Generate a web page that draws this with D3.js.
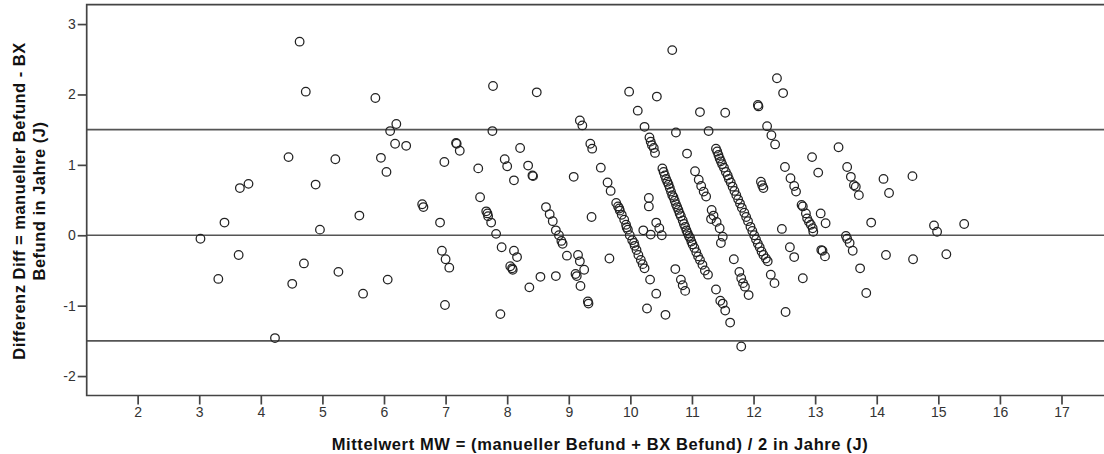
<!DOCTYPE html>
<html>
<head>
<meta charset="utf-8">
<script src="https://cdn.jsdelivr.net/npm/d3@7"></script>
<style>
  body { margin: 0; background: #fff; }
  svg { display: block; }
</style>
</head>
<body>
<script>
const width = 1104;
const height = 454;

// Mittelwert (x) and Differenz (y) for every case
const meanValues = [
  3.02, 3.31, 3.41, 3.64, 3.66, 3.80, 4.23, 4.45, 4.51, 4.63, 4.73, 4.70, 4.89, 4.96, 5.21, 5.26,
  5.60, 5.66, 5.86, 5.95, 6.04, 6.06, 6.10, 6.20, 6.18, 6.36, 6.62, 6.64, 6.91, 6.94, 7.00, 7.06,
  6.99, 6.98, 7.17, 7.18, 7.23,
  7.53, 7.56, 7.66, 7.68, 7.69, 7.74, 7.82, 7.77, 7.76, 7.91, 7.89, 7.96, 8.00, 8.11, 8.11, 8.16,
  8.05, 8.08, 8.09, 8.21, 8.34, 8.41, 8.42, 8.36, 8.48, 8.54, 8.79, 8.63, 8.69, 8.74, 8.79, 8.84,
  8.88, 8.90, 8.97, 9.08,
  9.11, 9.13, 9.15, 9.18, 9.25, 9.19, 9.31, 9.32, 9.18, 9.22, 9.35, 9.38, 9.37, 9.52, 9.63, 9.68, 9.66,
  9.77, 9.80, 9.82, 9.83, 9.86, 9.90, 9.93, 9.94, 9.96, 9.99, 10.03, 10.06, 10.07, 10.10, 10.13, 10.17,
  10.20, 10.23,
  9.98, 10.12, 10.23, 10.43, 10.74, 10.68,
  10.31, 10.33, 10.35, 10.38, 10.40, 10.30, 10.30, 10.21, 10.33, 10.42, 10.47, 10.51, 10.32, 10.42,
  10.27, 10.57,
  10.52, 10.54, 10.56, 10.58, 10.60, 10.62, 10.64, 10.66, 10.68, 10.70, 10.72, 10.74, 10.76, 10.78,
  10.80, 10.82, 10.85, 10.87, 10.89, 10.91, 10.93, 10.95, 10.97, 10.99, 11.01, 11.04, 11.07, 11.10,
  11.13, 11.17, 11.21, 11.26,
  10.92, 11.05, 11.11, 11.15, 11.19, 11.23, 11.32, 11.35, 11.31, 11.40, 11.45, 11.50, 11.47, 11.27,
  11.13, 11.54, 10.73, 10.82, 10.85, 10.89, 11.39, 11.46, 11.50, 11.54, 11.62, 11.68, 11.80,
  11.39, 11.41, 11.43, 11.45, 11.47, 11.49, 11.52, 11.55, 11.58, 11.60, 11.63, 11.66, 11.69, 11.72,
  11.75, 11.78, 11.81, 11.85, 11.88, 11.91, 11.95, 11.98, 12.01, 12.04, 12.07, 12.10, 12.13, 12.16,
  12.20, 12.23,
  11.77, 11.80, 11.83, 11.86, 11.92, 12.07, 12.08, 12.38, 12.48, 12.22, 12.29, 12.35, 12.12, 12.14,
  12.16, 12.28, 12.34, 12.52, 12.46, 12.59, 12.66, 12.51, 12.60, 12.66, 12.69, 12.78, 12.80, 12.85,
  12.87, 12.90, 12.93, 12.96, 12.97, 12.95, 13.05, 13.09, 13.17, 13.10, 13.12, 13.16, 12.80,
  13.38, 13.52, 13.58, 13.63, 13.66, 13.71, 13.50, 13.52, 13.56, 13.61, 13.73, 13.83, 13.91, 14.11,
  14.20, 14.15, 14.58, 14.59, 14.93, 14.98, 15.13, 15.42
];
const diffValues = [
  -0.05, -0.62, 0.18, -0.28, 0.67, 0.73, -1.46, 1.11, -0.69, 2.75, 2.04, -0.40, 0.72, 0.08, 1.08, -0.52,
  0.28, -0.83, 1.95, 1.10, 0.90, -0.63, 1.48, 1.58, 1.30, 1.27, 0.44, 0.40, 0.18, -0.22, -0.34, -0.46,
  -0.99, 1.04, 1.31, 1.30, 1.20,
  0.95, 0.54, 0.34, 0.31, 0.27, 0.18, 0.02, 2.12, 1.48, -0.17, -1.12, 1.08, 0.98, 0.78, -0.22, -0.31,
  -0.44, -0.47, -0.49, 1.24, 0.99, 0.85, 0.84, -0.74, 2.03, -0.59, -0.58, 0.40, 0.30, 0.20, 0.07, 0.00,
  -0.08, -0.12, -0.29, 0.83,
  -0.55, -0.58, -0.28, -0.37, -0.49, -0.72, -0.94, -0.97, 1.63, 1.56, 1.30, 1.23, 0.26, 0.96, 0.75, 0.63, -0.33,
  0.46, 0.41, 0.38, 0.35, 0.29, 0.22, 0.15, 0.11, 0.08, 0.00, -0.07, -0.11, -0.15, -0.21, -0.28, -0.35,
  -0.41, -0.47,
  2.04, 1.77, 1.54, 1.97, 1.46, 2.63,
  1.39, 1.33, 1.28, 1.24, 1.17, 0.41, 0.53, 0.07, 0.01, 0.18, 0.10, 0.00, -0.63, -0.83,
  -1.04, -1.13,
  0.95, 0.90, 0.85, 0.80, 0.76, 0.72, 0.67, 0.62, 0.57, 0.54, 0.49, 0.44, 0.40, 0.36,
  0.31, 0.27, 0.21, 0.16, 0.12, 0.07, 0.03, -0.01, -0.04, -0.09, -0.13, -0.18, -0.24, -0.30,
  -0.35, -0.42, -0.50, -0.56,
  1.16, 0.91, 0.79, 0.70, 0.62, 0.55, 0.36, 0.28, 0.23, 0.19, 0.10, -0.02, -0.11, 1.48,
  1.75, 1.74, -0.48, -0.63, -0.71, -0.79, -0.77, -0.93, -0.97, -1.07, -1.24, -0.34, -1.58,
  1.23, 1.19, 1.14, 1.09, 1.05, 1.01, 0.96, 0.90, 0.85, 0.80, 0.75, 0.69, 0.63, 0.57,
  0.51, 0.45, 0.39, 0.32, 0.26, 0.20, 0.12, 0.06, 0.00, -0.06, -0.12, -0.17, -0.23, -0.28,
  -0.33, -0.37,
  -0.52, -0.61, -0.68, -0.73, -0.85, 1.85, 1.83, 2.23, 2.02, 1.55, 1.42, 1.29, 0.76, 0.71,
  0.67, -0.56, -0.68, -1.09, 0.09, -0.17, -0.31, 0.97, 0.81, 0.70, 0.62, 0.43, 0.41, 0.31,
  0.24, 0.19, 0.15, 0.10, 0.05, 1.11, 0.89, 0.31, 0.17, -0.21, -0.22, -0.30, -0.61,
  1.25, 0.97, 0.83, 0.71, 0.69, 0.57, -0.01, -0.05, -0.11, -0.22, -0.47, -0.82, 0.18, 0.80,
  0.60, -0.28, 0.84, -0.34, 0.14, 0.05, -0.27, 0.16
];

// mean difference and limits of agreement
const refLines = [1.5, 0, -1.5];
const xTicks = [2, 3, 4, 5, 6, 7, 8, 9, 10, 11, 12, 13, 14, 15, 16, 17];
const yTicks = [-2, -1, 0, 1, 2, 3];

const plotLeft = 86.7, plotTop = 4.7, plotBottom = 395.5, plotRight = 1104;

const svg = d3.select("body")
  .append("svg")
  .attr("width", width)
  .attr("height", height);

const xScale = d3.scaleLinear()
  .domain([1.173, 17.69])
  .range([plotLeft, plotRight]);

const yScale = d3.scaleLinear()
  .domain([-2.276, 3.275])
  .range([plotBottom, plotTop]);

// horizontal reference lines
svg.selectAll("line.ref")
  .data(refLines)
  .enter()
  .append("line")
  .attr("class", "ref")
  .attr("x1", plotLeft)
  .attr("x2", plotRight)
  .attr("y1", d => yScale(d))
  .attr("y2", d => yScale(d))
  .attr("stroke", "#555")
  .attr("stroke-width", 1.7);

// points
svg.append("g")
  .selectAll("circle")
  .data(meanValues.map((m, i) => [m, diffValues[i]]))
  .enter()
  .append("circle")
  .attr("cx", d => xScale(d[0]))
  .attr("cy", d => yScale(d[1]))
  .attr("r", 4.3)
  .attr("fill", "none")
  .attr("stroke", "#222")
  .attr("stroke-width", 1.25);

// axes
const xAxis = d3.axisBottom(xScale).tickValues(xTicks).tickSize(9).tickPadding(3).tickFormat(d3.format("d"));
const yAxis = d3.axisLeft(yScale).tickValues(yTicks).tickSize(9).tickPadding(2).tickFormat(d => d < 0 ? "-" + Math.abs(d) : d);

const gx = svg.append("g")
  .attr("transform", "translate(0," + plotBottom + ")")
  .call(xAxis);
const gy = svg.append("g")
  .attr("transform", "translate(" + plotLeft + ",0)")
  .call(yAxis);

[gx, gy].forEach(g => {
  g.select(".domain").remove();
  g.selectAll(".tick line").attr("stroke", "#444").attr("stroke-width", 1.7);
  g.selectAll(".tick text")
    .attr("fill", "#333")
    .style("font-family", "Liberation Sans, Arial, sans-serif")
    .style("font-size", "14px");
});

// plot frame (right edge runs off the page)
svg.append("path")
  .attr("d", "M" + (plotRight + 2) + "," + plotTop + "H" + plotLeft + "V" + plotBottom + "H" + (plotRight + 2))
  .attr("fill", "none")
  .attr("stroke", "#444")
  .attr("stroke-width", 1.7);

// axis titles
svg.append("text")
  .attr("x", 600)
  .attr("y", 450)
  .attr("text-anchor", "middle")
  .style("font-family", "Liberation Sans, Arial, sans-serif")
  .style("font-weight", "bold")
  .style("font-size", "16.5px")
  .style("letter-spacing", "0.6px")
  .attr("fill", "#111")
  .text("Mittelwert MW = (manueller Befund + BX Befund) / 2 in Jahre (J)");

const yTitle = svg.append("text")
  .attr("transform", "translate(0,201) rotate(-90)")
  .attr("text-anchor", "middle")
  .style("font-family", "Liberation Sans, Arial, sans-serif")
  .style("font-weight", "bold")
  .style("font-size", "16.5px")
  .style("letter-spacing", "0.5px")
  .attr("fill", "#111");
yTitle.append("tspan").attr("x", 0).attr("y", 25).text("Differenz Diff = manueller Befund - BX");
yTitle.append("tspan").attr("x", 0).attr("y", 45).text("Befund in Jahre (J)");
</script>
</body>
</html>
